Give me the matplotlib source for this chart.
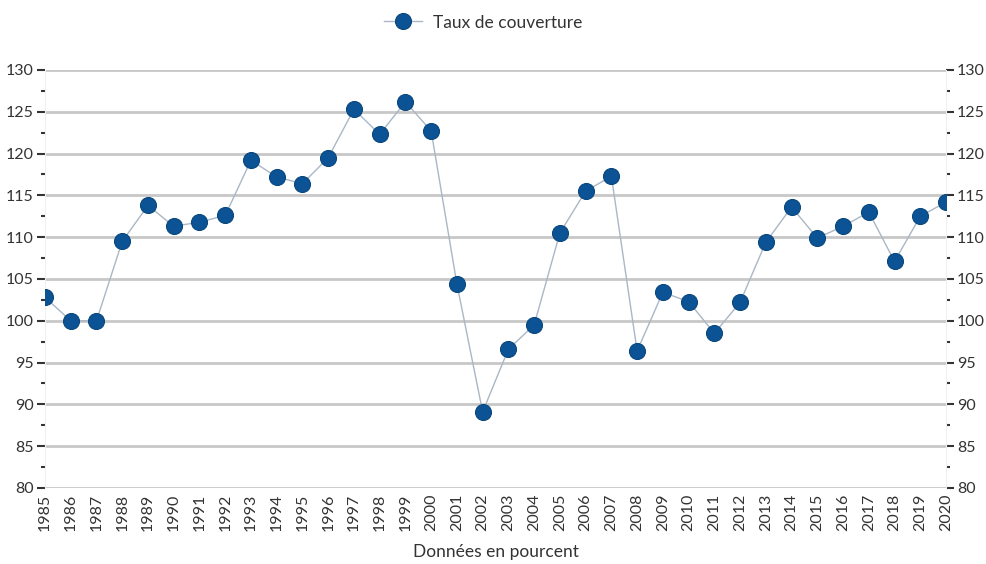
import matplotlib.pyplot as plt
from matplotlib.ticker import MultipleLocator

# Taux de couverture par annee (donnees en pourcent)
years = list(range(1985, 2021))
taux = [102.8, 100.0, 100.0, 109.5, 113.8, 111.3, 111.8, 112.6, 119.2, 117.2,
        116.4, 119.5, 125.3, 122.3, 126.2, 122.7, 104.4, 89.1, 96.6, 99.5,
        110.5, 115.5, 117.3, 96.4, 103.4, 102.3, 98.5, 102.2, 109.4, 113.6,
        109.9, 111.3, 113.0, 107.1, 112.5, 114.2]

plt.rcParams['font.family'] = ['Lato', 'DejaVu Sans']

fig = plt.figure(figsize=(9.87, 5.64), dpi=100)
ax = fig.add_axes([0.0456, 0.1348, 0.9129, 0.7411])

ax.plot(years, taux, color="#a9b7c6", linewidth=1, marker="o", markersize=11.5,
        markerfacecolor="#0b5394", markeredgecolor="#0a477e", markeredgewidth=0.8,
        label="Taux de couverture", zorder=3)

ax.set_xlim(1985, 2020)
ax.set_ylim(80, 130)
ax.yaxis.set_major_locator(MultipleLocator(5))
ax.yaxis.set_minor_locator(MultipleLocator(2.5))
ax.set_xticks(years)
ax.set_xticklabels([str(y) for y in years], rotation=90)

ax.grid(axis="y", which="major", color="#c8c8c8", linewidth=2)
ax.set_axisbelow(True)

for side in ["top", "bottom"]:
    ax.spines[side].set_visible(False)
for side in ["left", "right"]:
    ax.spines[side].set_color("#f0f0f0")
    ax.spines[side].set_linewidth(0.8)

ax.tick_params(axis="y", which="major", length=6, width=1.5, color="#333333",
               labelsize=11.5, labelcolor="#333333", left=True, right=True,
               labelleft=True, labelright=True, pad=2)
ax.tick_params(axis="y", which="minor", length=3, width=1.5, color="#333333",
               left=True, right=True)
ax.tick_params(axis="x", length=0, labelsize=11.5, labelcolor="#333333", pad=4)

ax.set_xlabel("Données en pourcent", fontsize=12.5, color="#333333", labelpad=9)

ax.legend(loc="upper center", bbox_to_anchor=(0.486, 1.17), frameon=False,
          fontsize=12.5, labelcolor="#333333", handlelength=2.2, handletextpad=0.6)

fig.savefig("out.png", dpi=100)
